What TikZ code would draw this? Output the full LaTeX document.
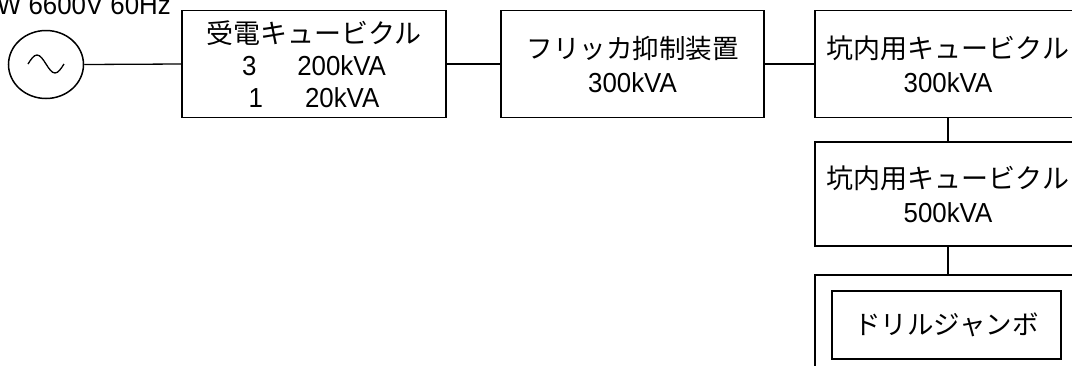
\documentclass[tikz,border=0pt]{standalone}
\usepackage{fontspec}
\setmainfont{Liberation Sans}[FakeStretch=0.94]
\newfontfamily\jp{Noto Sans CJK JP}
\usetikzlibrary{shapes.geometric}
\begin{document}
\begin{tikzpicture}[x=1pt,y=-1pt,
  box/.style={draw,line width=1.6pt,inner sep=0pt,align=center,font=\fontsize{27.5}{34}\selectfont},
  wire/.style={line width=1.3pt}]
\useasboundingbox (0,0) rectangle (1072,365);
% source
\node[ellipse,draw,line width=1.5pt,minimum width=75pt,minimum height=68pt,inner sep=0pt] (src) at (46,64.5) {};
\coordinate (sw) at (28,64);
\draw[wire] (sw) sin ++(9,-9) cos ++(9,9) sin ++(9,9) cos ++(9,-9);
\node[anchor=base east,inner sep=0pt,font=\fontsize{27.5}{30}\selectfont] (lbl) at (171,14) {W 6600V 60Hz};
% boxes
\node[box,minimum width=264pt,minimum height=107pt,font=\fontsize{27.5}{32}\selectfont] (b1) at (314,64)
  {{\jp\fontsize{27}{32}\selectfont 受電キュービクル}\\3\hspace{41pt}200kVA\\1\hspace{42pt}20kVA};
\node[box,minimum width=263pt,minimum height=107pt] (b2) at (632.5,64)
  {{\jp\fontsize{26.5}{34}\selectfont フリッカ抑制装置}\\300kVA};
\node[box,minimum width=266pt,minimum height=107pt] (b3) at (948,64)
  {{\jp\fontsize{27}{34}\selectfont 坑内用キュービクル}\\300kVA};
\node[box,minimum width=266pt,minimum height=104pt] (b4) at (948,194)
  {{\jp\fontsize{27}{34}\selectfont 坑内用キュービクル}\\500kVA};
\node[box,minimum width=266pt,minimum height=110pt] (b5) at (948,330) {};
\node[box,minimum width=229pt,minimum height=68pt] (drill) at (946.5,325)
  {{\jp\fontsize{26.5}{34}\selectfont ドリルジャンボ}};
% connectors
\draw[wire] (src.east) -- (b1.west);
\draw[wire] (b1.east) -- (b2.west);
\draw[wire] (b2.east) -- (b3.west);
\draw[wire] (b3.south) -- (b4.north);
\draw[wire] (b4.south) -- (b5.north);
\end{tikzpicture}
\end{document}
